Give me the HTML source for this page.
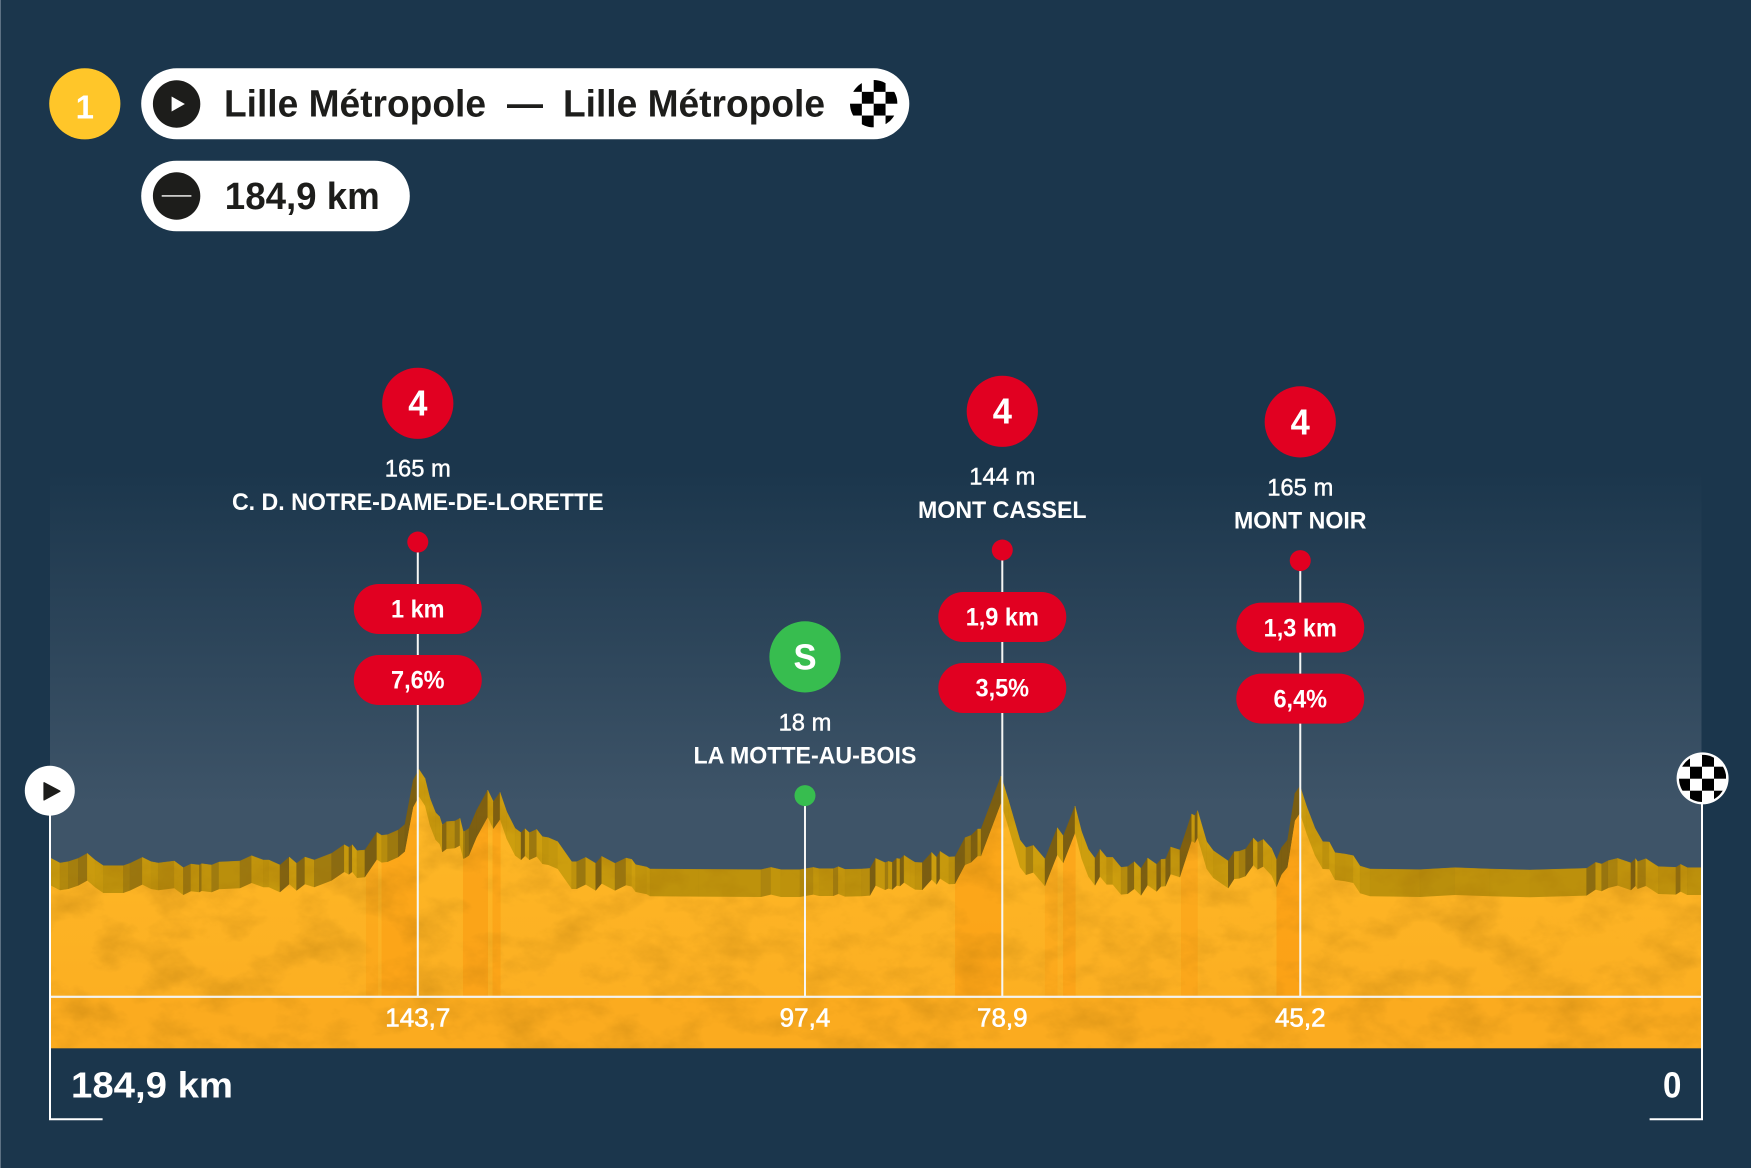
<!DOCTYPE html>
<html lang="fr">
<head>
<meta charset="utf-8">
<title>Stage 1 profile</title>
<style>
html,body{margin:0;padding:0;background:#1b364c;}
svg{display:block;}
text{font-family:"Liberation Sans",Arial,sans-serif;}
</style>
</head>
<body>
<svg id="chart" xmlns="http://www.w3.org/2000/svg" width="1751" height="1168" viewBox="0 0 1751 1168">
  <defs>
    <linearGradient id="skyGrad" gradientUnits="userSpaceOnUse" x1="0" y1="470" x2="0" y2="805">
      <stop offset="0" stop-color="#1b364c"/>
      <stop offset="1" stop-color="#3e5468"/>
    </linearGradient>
    <linearGradient id="faceGrad" gradientUnits="userSpaceOnUse" x1="0" y1="780" x2="0" y2="997">
      <stop offset="0" stop-color="#feb927"/>
      <stop offset="1" stop-color="#fcaf22"/>
    </linearGradient>
    <filter id="rockTexture" x="0" y="0" width="100%" height="100%" color-interpolation-filters="sRGB">
      <feTurbulence type="fractalNoise" baseFrequency="0.02 0.03" numOctaves="6" seed="7"/>
      <feColorMatrix type="matrix" values="0 0 0 0 0.6  0 0 0 0 0.4  0 0 0 0 0.02  0.6 0 0 0 -0.26"/>
    </filter>
    <clipPath id="solidClip"><path id="solidClipPath" d=""/></clipPath>
    <clipPath id="faceClip"><path id="faceClipPath" d=""/></clipPath>
    <clipPath id="headerCheckClip"><circle cx="873.7" cy="103.7" r="23.7"/></clipPath>
    <clipPath id="finishCheckClip"><circle cx="1702.6" cy="778.4" r="23.6"/></clipPath>
  </defs>

  <rect x="0" y="0" width="1751" height="1168" fill="#1b364c"/>
  <rect x="0" y="0" width="1" height="1168" fill="#5d7183"/>
  <rect x="50" y="470" width="1651.5" height="530" fill="url(#skyGrad)"/>

  <g id="profileLayer"></g>

  <rect x="50" y="996.7" width="1651.5" height="51.6" fill="#fbab1f"/>
  <rect x="50" y="760" width="1651.5" height="289" filter="url(#rockTexture)" clip-path="url(#solidClip)"/>
  <rect x="50" y="995.7" width="1652" height="2.2" fill="#f4f4f0"/>

  <g id="markerLayer"></g>

  <g>
    <path d="M50 815V1119.3H102.6" fill="none" stroke="#fff" stroke-width="2"/>
    <circle cx="49.8" cy="790.7" r="25" fill="#fff"/>
    <path d="M44 782.7L60 791.2L44 800Z" fill="#1d1d1b" stroke="#1d1d1b" stroke-width="1.2" stroke-linejoin="round"/>
  </g>
  <g>
    <path d="M1702 800V1119.3H1649.6" fill="none" stroke="#fff" stroke-width="2"/>
    <circle cx="1702.6" cy="778.4" r="26" fill="#fff"/>
    <g id="finishCheck" clip-path="url(#finishCheckClip)"></g>
  </g>
  <text x="71" y="1097.7" font-size="36" font-weight="700" fill="#fff" textLength="162" lengthAdjust="spacingAndGlyphs">184,9 km</text>
  <text x="1663" y="1097.7" font-size="36" font-weight="700" fill="#fff" textLength="18.4" lengthAdjust="spacingAndGlyphs">0</text>

  <g>
    <circle cx="84.8" cy="103.8" r="35.6" fill="#ffc629"/>
    <text x="84.8" y="118.5" font-size="33" font-weight="700" text-anchor="middle" fill="#fff">1</text>

    <rect x="141.2" y="68.3" width="768.1" height="71" rx="35.5" fill="#fff"/>
    <circle cx="176.6" cy="104" r="23.7" fill="#1d1d1b"/>
    <path d="M171.6 96.5L184.9 104L171.6 111.5Z" fill="#fff"/>
    <text x="224" y="116.7" font-size="38" font-weight="700" fill="#1d1d1b" textLength="262" lengthAdjust="spacingAndGlyphs">Lille Métropole</text>
    <text x="507" y="116.7" font-size="38" font-weight="700" fill="#1d1d1b" textLength="36" lengthAdjust="spacingAndGlyphs">—</text>
    <text x="563" y="116.7" font-size="38" font-weight="700" fill="#1d1d1b" textLength="262" lengthAdjust="spacingAndGlyphs">Lille Métropole</text>
    <g id="headerCheck" clip-path="url(#headerCheckClip)"></g>

    <rect x="141.2" y="160.7" width="268.6" height="70.6" rx="35.3" fill="#fff"/>
    <circle cx="176.6" cy="196" r="23.7" fill="#1d1d1b"/>
    <rect x="161.7" y="195" width="29.7" height="1.8" fill="#c9c9c7"/>
    <text x="224.8" y="209" font-size="38" font-weight="700" fill="#1d1d1b" textLength="155" lengthAdjust="spacingAndGlyphs">184,9 km</text>
  </g>
</svg>

<script>
/* Profile ridge: distance to finish (km) */
const profileKm = [
184.9,183.76,182.83,181.71,180.70,179.84,178.91,176.67,175.93,174.54,
173.57,172.75,170.96,169.95,169.10,168.16,167.90,166.78,165.96,163.61,
162.31,161.00,160.37,159.13,158.09,157.27,156.34,155.29,153.35,151.93,
151.41,151.04,150.51,149.62,148.28,147.75,147.08,145.89,145.14,144.21,
143.57,142.90,142.34,141.71,141.26,140.96,140.48,139.54,138.98,138.61,
138.41,137.96,137.10,135.87,135.24,134.49,133.75,132.81,132.14,131.69,
131.21,130.39,129.75,129.08,128.04,126.47,125.91,124.90,123.78,123.11,
121.62,120.39,119.75,119.31,118.07,117.70,112.29,105.28,104.16,103.04,
100.91,99.42,98.78,97.18,96.62,95.87,94.01,93.07,92.44,
91.39,91.02,90.57,90.08,89.71,89.26,88.59,88.03,87.21,86.17,
85.61,85.23,84.23,83.55,82.43,81.76,81.02,80.64,78.40,77.58,
76.28,75.61,74.79,73.48,72.10,71.43,70.12,69.38,68.63,67.88,
67.32,66.58,65.90,64.97,64.23,63.48,62.73,61.99,60.98,60.49,
59.97,59.41,58.37,57.06,56.69,56.39,55.38,54.64,52.96,52.29,
51.76,51.02,50.16,49.67,49.04,48.11,47.55,46.99,46.32,
45.49,44.93,44.18,43.25,42.39,41.65,41.01,39.89,38.96,38.21,
37.09,31.50,27.58,23.66,19.18,12.84,11.83,11.16,10.42,9.37,
8.06,7.88,7.36,7.13,6.20,4.82,2.84,2.32,1.57,0
];
/* Profile ridge: plotted elevation (m) */
const profileElevation = [
35.3,27.3,29.3,34.3,41.8,31.8,23.3,23.3,26.8,35.8,
29.3,27.3,30.3,20.3,25.8,24.3,26.3,24.3,28.8,30.3,
38.3,31.8,31.8,24.3,36.3,26.8,36.3,31.8,41.8,54.8,
50.8,54.8,45.8,46.8,73.3,68.8,69.8,76.8,85.3,151.8,
167.8,154.3,124.3,102.8,96.8,84.3,89.3,90.3,94.3,74.3,
75.3,79.3,106.8,136.8,119.3,133.3,104.3,79.3,72.8,78.8,
72.8,77.8,66.8,65.3,59.3,29.3,29.3,35.8,26.8,37.3,
26.8,34.8,32.8,24.8,21.3,18.3,17.8,17.3,20.8,17.3,
17.3,20.8,18.8,18.8,21.8,17.8,18.3,19.3,34.3,
27.8,29.8,28.3,34.3,33.3,38.8,32.8,28.3,27.8,43.3,
35.8,44.8,36.3,36.8,65.3,68.8,78.3,78.3,157.8,121.8,
61.8,50.3,53.8,33.3,80.3,67.8,112.8,74.3,47.8,34.3,
47.8,35.8,35.8,20.8,21.8,29.3,19.3,34.8,25.3,32.8,
33.3,51.3,46.8,100.8,98.3,105.8,59.3,45.8,30.3,44.3,
44.8,48.3,64.8,58.3,62.8,49.3,31.8,50.8,61.8,
131.8,142.8,111.8,79.3,59.3,58.8,42.8,40.8,38.3,22.8,
18.3,17.3,20.3,18.3,16.8,19.3,28.3,25.8,30.8,34.3,
28.3,27.3,33.8,29.3,33.8,21.8,20.8,25.3,20.3,20.3
];

/* Climb segments highlighted on the face */
const climbStartKm = [149.5,147.76,138.64,135.33,83.55,73.48,71.46,58.25,47.56];
const climbEndKm   = [148.15,143.86,135.84,134.43,78.40,72.07,70.05,56.38,44.98];
const climbIntensity = [0.55,0.8,0.9,0.8,0.8,0.45,0.75,0.6,0.95];

/* Markers */
const markerNames = ['C. D. NOTRE-DAME-DE-LORETTE','LA MOTTE-AU-BOIS','MONT CASSEL','MONT NOIR'];
const markerBadges = ['4','S','4','4'];
const markerKm = [143.7,100.35,78.26,44.9];
const markerPeakElevation = [169.3,20,157.3,141.5];
const markerAltitudeLabels = ['165 m','18 m','144 m','165 m'];
const markerKmLabels = ['143,7','97,4','78,9','45,2'];
const climbLengthLabels = ['1 km',null,'1,9 km','1,3 km'];
const climbGradeLabels = ['7,6%',null,'3,5%','6,4%'];
const totalKm = 184.9;

/* Axis functions */
function xScale(km){ return 1701.3 - (km / totalKm) * 1651.5; }
function yScale(m){ return 881.2 - m * 2 / 3; }
function frontY(m){ return yScale(m) + 27.3; }

const NS = 'http://www.w3.org/2000/svg';
function svgEl(tag, attrs, parent){
  const el = document.createElementNS(NS, tag);
  for (const k in attrs) el.setAttribute(k, attrs[k]);
  parent.appendChild(el);
  return el;
}
function mix(a, b, t){ return 'rgb(' + a.map((v, i) => Math.round(v + (b[i] - v) * t)).join(',') + ')'; }
function facetColor(dx, dy){
  const slope = dy / Math.max(dx, 0.1);
  const flat = [190, 146, 12];
  if (slope > 0) return mix(flat, [122, 94, 18], Math.min(1, slope * 1.1));
  return mix(flat, [205, 158, 14], Math.min(1, -slope * 0.9));
}
function setText(el, value, factor){
  el.textContent = value;
  if (factor) {
    el.setAttribute('textLength', (el.getComputedTextLength() * factor).toFixed(1));
    el.setAttribute('lengthAdjust', 'spacingAndGlyphs');
  }
}

const profileLayer = document.getElementById('profileLayer');
const markerLayer = document.getElementById('markerLayer');

/* Shapes derived from the data */
const ridgeD = profileKm.map((k, i) => (i ? 'L' : 'M') + xScale(k).toFixed(2) + ' ' + yScale(profileElevation[i]).toFixed(2)).join('');
const frontD = profileKm.map((k, i) => (i ? 'L' : 'M') + xScale(k).toFixed(2) + ' ' + frontY(profileElevation[i]).toFixed(2)).join('');
const right = xScale(profileKm[profileKm.length - 1]).toFixed(2);
const left = xScale(profileKm[0]).toFixed(2);
document.getElementById('solidClipPath').setAttribute('d', ridgeD + 'L' + right + ' 1048.3L' + left + ' 1048.3Z');
document.getElementById('faceClipPath').setAttribute('d', frontD + 'L' + right + ' 997L' + left + ' 997Z');

/* Side facets */
for (let i = 0; i < profileKm.length - 1; i++) {
  const x0 = xScale(profileKm[i]), x1 = xScale(profileKm[i + 1]);
  const y0 = yScale(profileElevation[i]), y1 = yScale(profileElevation[i + 1]);
  const color = facetColor(x1 - x0, y0 - y1);
  const facet = svgEl('polygon', {
    points: [x0, y0, x1, y1, x1, frontY(profileElevation[i + 1]) + 1, x0, frontY(profileElevation[i]) + 1].map(v => v.toFixed(2)).join(' '),
    fill: color, stroke: color, 'stroke-width': 0.4
  }, profileLayer);
  
  
}

/* Front face */
const face = svgEl('path', { d: frontD + 'L' + right + ' 997L' + left + ' 997Z', fill: 'url(#faceGrad)' }, profileLayer);



/* Climb highlights */
const climbGroup = svgEl('g', { 'clip-path': 'url(#faceClip)' }, profileLayer);


climbStartKm.forEach((km, i) => {
  const x0 = xScale(km), x1 = xScale(climbEndKm[i]);
  const band = svgEl('rect', { x: x0, y: 760, width: x1 - x0, height: 237, fill: '#fb9c12', opacity: climbIntensity[i] * 0.72 }, climbGroup);
  
  
});

/* Markers */
markerNames.forEach((name, i) => {
  const hasPills = climbLengthLabels[i] !== null;
  const x = xScale(markerKm[i]);
  const cy = yScale(markerPeakElevation[i]) - 211 - (hasPills ? 154 : 0);
  const color = hasPills ? '#e10021' : '#37bd4f';

  const stem = svgEl('rect', { x: x - 1, y: cy + 139, width: 2, height: 996 - cy - 139, fill: '#f6f6f4' }, markerLayer);
  
  

  const dot = svgEl('circle', { cx: x, cy: cy + 138.7, r: 10.5, fill: color }, markerLayer);
  
  

  const badge = svgEl('circle', { cx: x, cy: cy, r: 35.6, fill: color }, markerLayer);
  
  

  const badgeText = svgEl('text', { x: x, y: cy + 12.4, 'font-size': 36, 'font-weight': 700, 'text-anchor': 'middle', fill: '#fff' }, markerLayer);
  
  
  setText(badgeText, markerBadges[i], 0.96);

  const altText = svgEl('text', { x: x, y: cy + 73.4, 'font-size': 24.5, 'text-anchor': 'middle', fill: '#fff', stroke: '#fff', 'stroke-width': 0.45 }, markerLayer);
  
  
  setText(altText, markerAltitudeLabels[i], 0.97);

  const nameText = svgEl('text', { x: x, y: cy + 106.7, 'font-size': 24.5, 'font-weight': 700, 'text-anchor': 'middle', fill: '#fff' }, markerLayer);
  
  
  setText(nameText, name, 0.945);

  if (hasPills) {
    const lenPill = svgEl('rect', { x: x - 64, y: cy + 180.7, width: 128, height: 50, rx: 25, fill: color }, markerLayer);
    
    

    const lenText = svgEl('text', { x: x, y: cy + 214.4, 'font-size': 25, 'font-weight': 700, 'text-anchor': 'middle', fill: '#fff' }, markerLayer);
    
    
    setText(lenText, climbLengthLabels[i], 0.94);

    const gradePill = svgEl('rect', { x: x - 64, y: cy + 251.7, width: 128, height: 50, rx: 25, fill: color }, markerLayer);
    
    

    const gradeText = svgEl('text', { x: x, y: cy + 285.4, 'font-size': 25, 'font-weight': 700, 'text-anchor': 'middle', fill: '#fff' }, markerLayer);
    
    
    setText(gradeText, climbGradeLabels[i], 0.94);
  }

  const kmText = svgEl('text', { x: x, y: 1026.7, 'font-size': 25.5, 'text-anchor': 'middle', fill: '#fff', stroke: '#fff', 'stroke-width': 0.6 }, markerLayer);
  
  
  setText(kmText, markerKmLabels[i], 1.02);
});

/* Chequered flag icons */
function checker(groupId, x0, y0, cell, cMin, cMax, rMin, rMax){
  const group = document.getElementById(groupId);
  for (let r = rMin; r <= rMax; r++) {
    for (let c = cMin; c <= cMax; c++) {
      if ((r + c) % 2 === 0) {
        const sq = svgEl('rect', { x: x0 + c * cell, y: y0 + r * cell, width: cell, height: cell, fill: '#000' }, group);
        
        
      }
    }
  }
}
checker('headerCheck', 850, 80, 11.85, 0, 3, 0, 3);
checker('finishCheck', 1690, 766.7, 12, -2, 2, -2, 3);
</script>
</body>
</html>
